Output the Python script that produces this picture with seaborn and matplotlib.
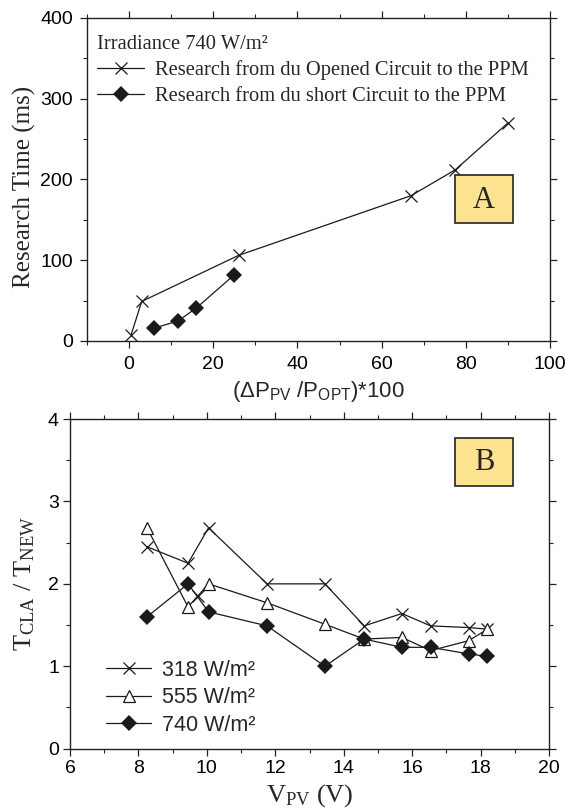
import numpy as np
import matplotlib
matplotlib.use("Agg")
import matplotlib.pyplot as plt
from matplotlib.patches import Rectangle
import seaborn as sns

sns.set_theme(style="ticks")
plt.rcParams['font.family'] = ['Liberation Sans', 'DejaVu Sans']
plt.rcParams['mathtext.fontset'] = 'custom'
plt.rcParams['mathtext.rm'] = 'Liberation Serif'
plt.rcParams['mathtext.sf'] = 'Liberation Sans'
plt.rcParams['mathtext.it'] = 'Liberation Serif:italic'

SERIF = ['Liberation Serif', 'DejaVu Serif']

# panel A - research time vs power deviation
open_dp = [0.5, 3, 26, 67, 77.5, 90]
open_t = [8, 49, 106, 180, 212, 270]
short_dp = [6, 11.7, 16, 25]
short_t = [16, 25, 41, 82]

# panel B - ratio T_CLA / T_NEW vs V_PV
vpv = [8.25, 9.45, 10.05, 11.76, 13.45, 14.6, 15.7, 16.54, 17.65, 18.2]
r318 = [2.45, 2.25, 2.68, 2.0, 2.0, 1.49, 1.64, 1.49, 1.47, 1.45]
r555 = [2.68, 1.72, 2.0, 1.77, 1.51, 1.33, 1.35, 1.19, 1.31, 1.45]
r740 = [1.6, 2.0, 1.66, 1.49, 1.0, 1.33, 1.23, 1.23, 1.15, 1.12]
stray_v = [9.73]
stray_r = [1.85]

fig = plt.figure(figsize=(5.65, 8.09), dpi=100)
axA = fig.add_axes([87/565, 1-341/809, 463/565, 323/809])
axB = fig.add_axes([70/565, 1-748.7/809, 479/565, 329.7/809])

lw = 0.9
xkw = dict(marker='x', markersize=9, markeredgewidth=0.9, markeredgecolor='k')
dkw = dict(marker='D', markersize=8, markeredgewidth=0, markerfacecolor='k')

sns.lineplot(x=open_dp, y=open_t, sort=False, ax=axA, color='k', lw=lw,
             label='Research from du Opened Circuit to the PPM', **xkw)
sns.lineplot(x=short_dp, y=short_t, sort=False, ax=axA, color='k', lw=lw,
             label='Research from du short Circuit to the PPM', **dkw)

sns.lineplot(x=vpv, y=r318, sort=False, ax=axB, color='k', lw=lw,
             label='318 W/m²', **xkw)
sns.lineplot(x=vpv, y=r555, sort=False, ax=axB, color='k', lw=lw,
             marker='^', markersize=9, markerfacecolor='white',
             markeredgecolor='k', markeredgewidth=0.9, label='555 W/m²')
sns.lineplot(x=vpv, y=r740, sort=False, ax=axB, color='k', lw=lw,
             label='740 W/m²', **dkw)
axB.plot(stray_v, stray_r, ls='none', color='k', marker='x', markersize=8,
         markeredgewidth=0.9, markeredgecolor='k')

axA.set_xlim(-10, 100)
axA.set_ylim(0, 400)
axA.set_xticks([0, 20, 40, 60, 80, 100])
axA.set_xticks(np.arange(-10, 101, 20), minor=True)
axA.set_yticks([0, 100, 200, 300, 400])
axA.set_yticks([50, 150, 250, 350], minor=True)

axB.set_xlim(6, 20)
axB.set_ylim(0, 4)
axB.set_xticks(np.arange(6, 21, 2))
axB.set_xticks(np.arange(7, 20, 2), minor=True)
axB.set_yticks([0, 1, 2, 3, 4])
axB.set_yticks([0.5, 1.5, 2.5, 3.5], minor=True)

for ax in (axA, axB):
    for s in ax.spines.values():
        s.set_visible(True)
        s.set_linewidth(1.0)
        s.set_color('#222222')
    ax.tick_params(which='major', direction='out', length=5, width=0.9,
                   labelsize=14, pad=3, colors='#222222',
                   top=True, right=True, labeltop=False, labelright=False)
    ax.tick_params(which='minor', direction='out', length=3, width=0.8,
                   top=True, right=True, colors='#222222')
    ax.tick_params(labelcolor='black')
axA.tick_params(axis='x', which='major', pad=6)
axA.tick_params(axis='y', which='major', pad=5)

axA.set_ylabel('Research Time (ms)', fontsize=18, family=SERIF)
axA.yaxis.set_label_coords(-0.11, 0.478)
axA.set_xlabel('(ΔP$_{\\mathsf{PV}}$ /P$_{\\mathsf{OPT}}$)*100', fontsize=16, labelpad=4)
axB.set_ylabel('T$_{\\mathrm{CLA}}$ / T$_{\\mathrm{NEW}}$', fontsize=19, family=SERIF, labelpad=8)
axB.set_xlabel('V$_{\\mathrm{PV}}$ (V)', fontsize=19, family=SERIF, labelpad=4)

legA = axA.legend(loc='upper left', frameon=False, title='Irradiance 740 W/m²',
                  prop={'family': SERIF, 'size': 14.8}, handlelength=2.3,
                  handletextpad=0.5, borderaxespad=0.2, labelspacing=0.3,
                  bbox_to_anchor=(-0.005, 0.985))
legA.get_title().set_fontsize(14.8)
legA.get_title().set_family(SERIF)
legA._legend_box.align = 'left'

axB.legend(loc='lower left', frameon=False, prop={'size': 15.5},
           handlelength=2.1, handletextpad=0.5, labelspacing=0.3,
           bbox_to_anchor=(0.035, -0.02))

# lettered boxes
for letter, top in (('A', 175), ('B', 438)):
    fig.patches.append(Rectangle((455/565, 1-(top+48)/809), 58/565, 48/809,
                                 transform=fig.transFigure, fc='#fde28f',
                                 ec='#222222', lw=1.2, zorder=5))
    fig.text(484/565, 1-(top+25)/809, letter, family=SERIF, fontsize=22,
             ha='center', va='center', zorder=6)

fig.savefig('out.png', dpi=100)
